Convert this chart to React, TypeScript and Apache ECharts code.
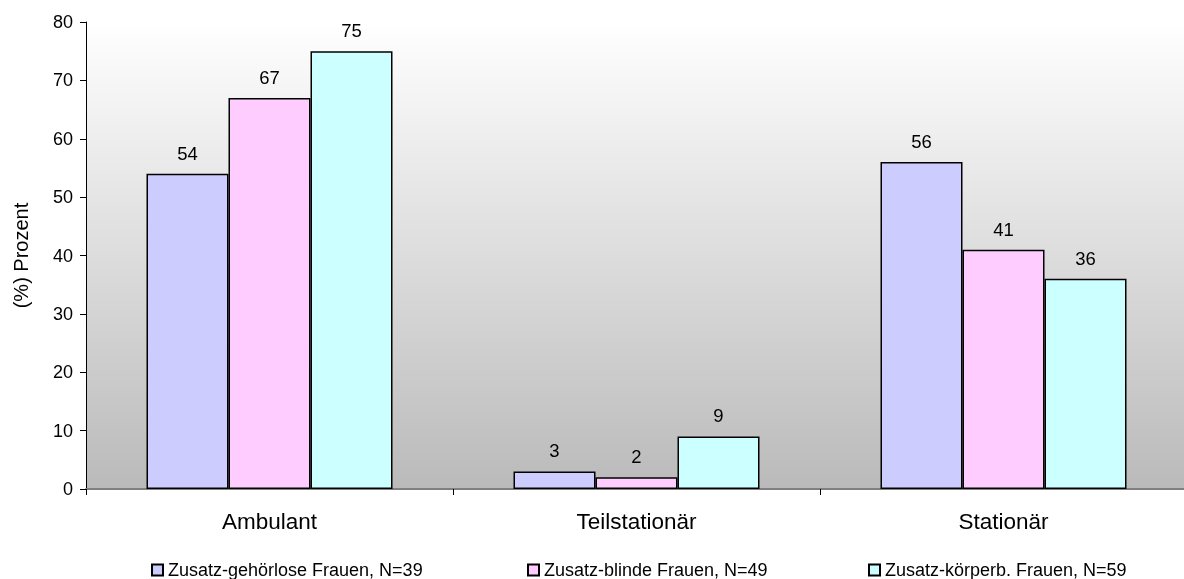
import React, { useEffect, useRef } from "react";
import * as echarts from "echarts";

const categories = ["Ambulant", "Teilstationär", "Stationär"];
const seriesNames = [
  "Zusatz-gehörlose Frauen, N=39",
  "Zusatz-blinde Frauen, N=49",
  "Zusatz-körperb. Frauen, N=59",
];
const gehoerlos = [54, 3, 56];
const blind = [67, 2, 41];
const koerperb = [75, 9, 36];
const colors = ["#CCCCFF", "#FFCCFF", "#CCFFFF"];
const yTicks = [0, 80, 10];

export default function App() {
  const ref = useRef<HTMLDivElement>(null);
  useEffect(() => {
    if (!ref.current) return;
    const chart = echarts.init(ref.current, null, { renderer: "svg" });
    const values = [gehoerlos, blind, koerperb];
    const font = "Liberation Sans, Arial, sans-serif";
    chart.setOption({
      animation: false,
      textStyle: { fontFamily: font },
      grid: {
        left: 86,
        top: 22,
        width: 1101,
        height: 467,
        show: true,
        borderWidth: 0,
        containLabel: false,
        outerBoundsMode: "none",
        backgroundColor: new echarts.graphic.LinearGradient(0, 0, 0, 1, [
          { offset: 0, color: "#ffffff" },
          { offset: 1, color: "#bababa" },
        ]),
      },
      legend: seriesNames.map((n, i) => ({
        data: [n],
        left: [151, 527, 868][i],
        top: 561,
        padding: 0,
        itemWidth: 11,
        itemHeight: 11,
        textStyle: { fontSize: 18, color: "#000", fontFamily: font },
        icon: "rect",
      })),
      xAxis: {
        type: "category",
        data: categories,
        axisLine: { lineStyle: { color: "#808080", width: 2 } },
        axisTick: { show: true, length: 6, lineStyle: { color: "#000" } },
        axisLabel: { fontSize: 22.5, color: "#000", margin: 21 },
      },
      yAxis: {
        type: "value",
        min: yTicks[0],
        max: yTicks[1],
        interval: yTicks[2],
        name: "(%) Prozent",
        nameLocation: "middle",
        nameGap: 55,
        nameTextStyle: { fontSize: 20, color: "#000" },
        axisLine: { show: true, lineStyle: { color: "#000", width: 1 } },
        axisTick: { show: true, length: 6, lineStyle: { color: "#000" } },
        axisLabel: { fontSize: 18, color: "#000", margin: 13 },
        splitLine: { show: false },
      },
      series: seriesNames.map((n, i) => ({
        name: n,
        type: "bar",
        data: values[i],
        barWidth: 82,
        barGap: "0%",
        itemStyle: { color: colors[i], borderColor: "#000", borderWidth: 1.5 },
        label: { show: true, position: "top", distance: 11, fontSize: 18.5, color: "#000" },
      })),
    });
    return () => chart.dispose();
  }, []);
  return (
    <div
      ref={ref}
      style={{ position: "fixed", left: 0, top: 0, width: 1184, height: 579 }}
    />
  );
}
